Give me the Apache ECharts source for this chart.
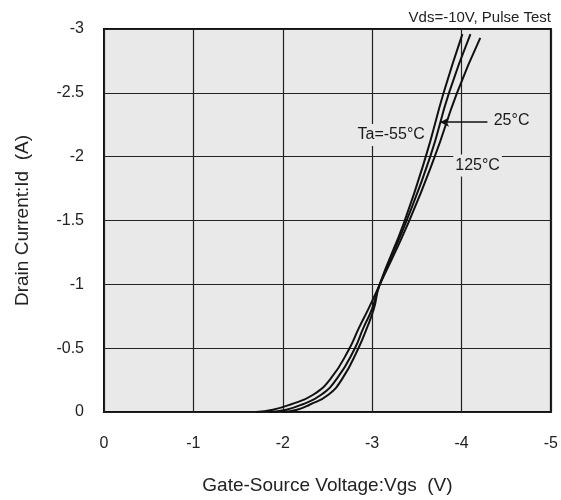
<!DOCTYPE html>
<html>
<head>
<meta charset="utf-8">
<script src="https://cdn.jsdelivr.net/npm/echarts@6/dist/echarts.min.js"></script>
<style>
  html, body { margin: 0; padding: 0; background: #fff; }
  #main { width: 561px; height: 500px; }
</style>
</head>
<body>
<div id="main"></div>
<script>
// drain current levels (A)
var idPts   = [0, -0.018, -0.057, -0.135, -0.265, -0.49, -0.655, -0.81, -0.99, -1.49, -2.0, -2.5, -2.96];
var id125   = [0, -0.018, -0.057, -0.135, -0.265, -0.49, -0.655, -0.81, -0.99, -1.49, -2.0, -2.5, -2.93];
// gate-source voltage (V) for each temperature
var vgsM55  = [-2.00, -2.16, -2.30, -2.51, -2.67, -2.84, -2.94, -3.02, -3.08, -3.36, -3.60, -3.80, -4.01];
var vgs25   = [-1.85, -2.04, -2.21, -2.43, -2.61, -2.80, -2.90, -3.00, -3.08, -3.38, -3.65, -3.86, -4.10];
var vgs125  = [-1.70, -1.89, -2.08, -2.34, -2.54, -2.74, -2.85, -2.96, -3.08, -3.41, -3.70, -3.95, -4.21];

var xTicks = [0, -1, -2, -3, -4, -5];
var yTicks = [0, -0.5, -1, -1.5, -2, -2.5, -3];

function pairs(xs, ys) {
    var out = [];
    for (var i = 0; i < xs.length; i++) out.push([xs[i], ys[i]]);
    return out;
}

var FONT = '"Liberation Sans", Arial, sans-serif';
var PLOT_BG = '#e9e9e9';

var lbl = function (text, pos) {
    return {
        show: true,
        formatter: text,
        position: pos,
        distance: 2,
        color: '#1a1a1a',
        fontSize: 16,
        fontFamily: FONT,
        backgroundColor: PLOT_BG,
        padding: [4, 2, 2, 2]
    };
};

var myChart = echarts.init(document.getElementById('main'));

var option = {
    animation: false,
    backgroundColor: '#fff',
    title: {
        text: 'Vds=-10V, Pulse Test',
        right: 5,
        top: 5,
        textStyle: { fontSize: 15, fontWeight: 'normal', color: '#222', fontFamily: FONT }
    },
    grid: {
        left: 104,
        top: 29,
        width: 447,
        height: 385,
        show: true,
        backgroundColor: PLOT_BG,
        borderColor: '#111',
        borderWidth: 2
    },
    xAxis: {
        type: 'value',
        min: -5,
        max: 0,
        interval: 1,
        inverse: true,
        name: 'Gate-Source Voltage:Vgs  (V)',
        nameLocation: 'middle',
        nameGap: 64,
        nameTextStyle: { fontSize: 19, color: '#222', fontFamily: FONT },
        axisLine: { show: false },
        axisTick: { show: false },
        axisLabel: {
            margin: 24, fontSize: 16, color: '#222', fontFamily: FONT,
            formatter: function (v) { return xTicks.indexOf(v) >= 0 ? String(v) : ''; }
        },
        splitLine: { show: true, lineStyle: { color: '#222', width: 1.2 } }
    },
    yAxis: {
        type: 'value',
        min: -3,
        max: 0,
        interval: 0.5,
        inverse: true,
        name: 'Drain Current:Id  (A)',
        nameLocation: 'middle',
        nameGap: 72,
        nameTextStyle: { fontSize: 19, color: '#222', fontFamily: FONT },
        axisLine: { show: false },
        axisTick: { show: false },
        axisLabel: {
            margin: 20, fontSize: 16, color: '#222', fontFamily: FONT,
            formatter: function (v) { return yTicks.indexOf(v) >= 0 ? String(v) : ''; }
        },
        splitLine: { show: true, lineStyle: { color: '#222', width: 1.2 } }
    },
    series: [
        {
            name: 'Ta=-55°C',
            type: 'line',
            data: pairs(vgsM55, idPts),
            smooth: 0.5,
            showSymbol: false,
            lineStyle: { color: '#111', width: 2 },
            markPoint: {
                symbol: 'circle',
                symbolSize: 1,
                itemStyle: { color: 'rgba(0,0,0,0)' },
                silent: true,
                data: [{ coord: [-3.64, -2.17], label: lbl('Ta=-55°C', 'left') }]
            }
        },
        {
            name: '25°C',
            type: 'line',
            data: pairs(vgs25, idPts),
            smooth: 0.5,
            showSymbol: false,
            lineStyle: { color: '#111', width: 2 },
            markPoint: {
                symbol: 'circle',
                symbolSize: 1,
                itemStyle: { color: 'rgba(0,0,0,0)' },
                silent: true,
                data: [{ coord: [-4.31, -2.28], label: lbl('25°C', 'right') }]
            },
            markLine: {
                silent: true,
                symbol: ['none', 'arrow'],
                symbolSize: [7, 9],
                lineStyle: { color: '#111', width: 1.5, type: 'solid' },
                label: { show: false },
                data: [[{ coord: [-4.29, -2.27] }, { coord: [-3.76, -2.27] }]]
            }
        },
        {
            name: '125°C',
            type: 'line',
            data: pairs(vgs125, id125),
            smooth: 0.5,
            showSymbol: false,
            lineStyle: { color: '#111', width: 2 },
            markPoint: {
                symbol: 'circle',
                symbolSize: 1,
                itemStyle: { color: 'rgba(0,0,0,0)' },
                silent: true,
                data: [{ coord: [-4.18, -1.93], label: lbl('125°C', 'inside') }]
            }
        }
    ]
};

myChart.setOption(option);
</script>
</body>
</html>
